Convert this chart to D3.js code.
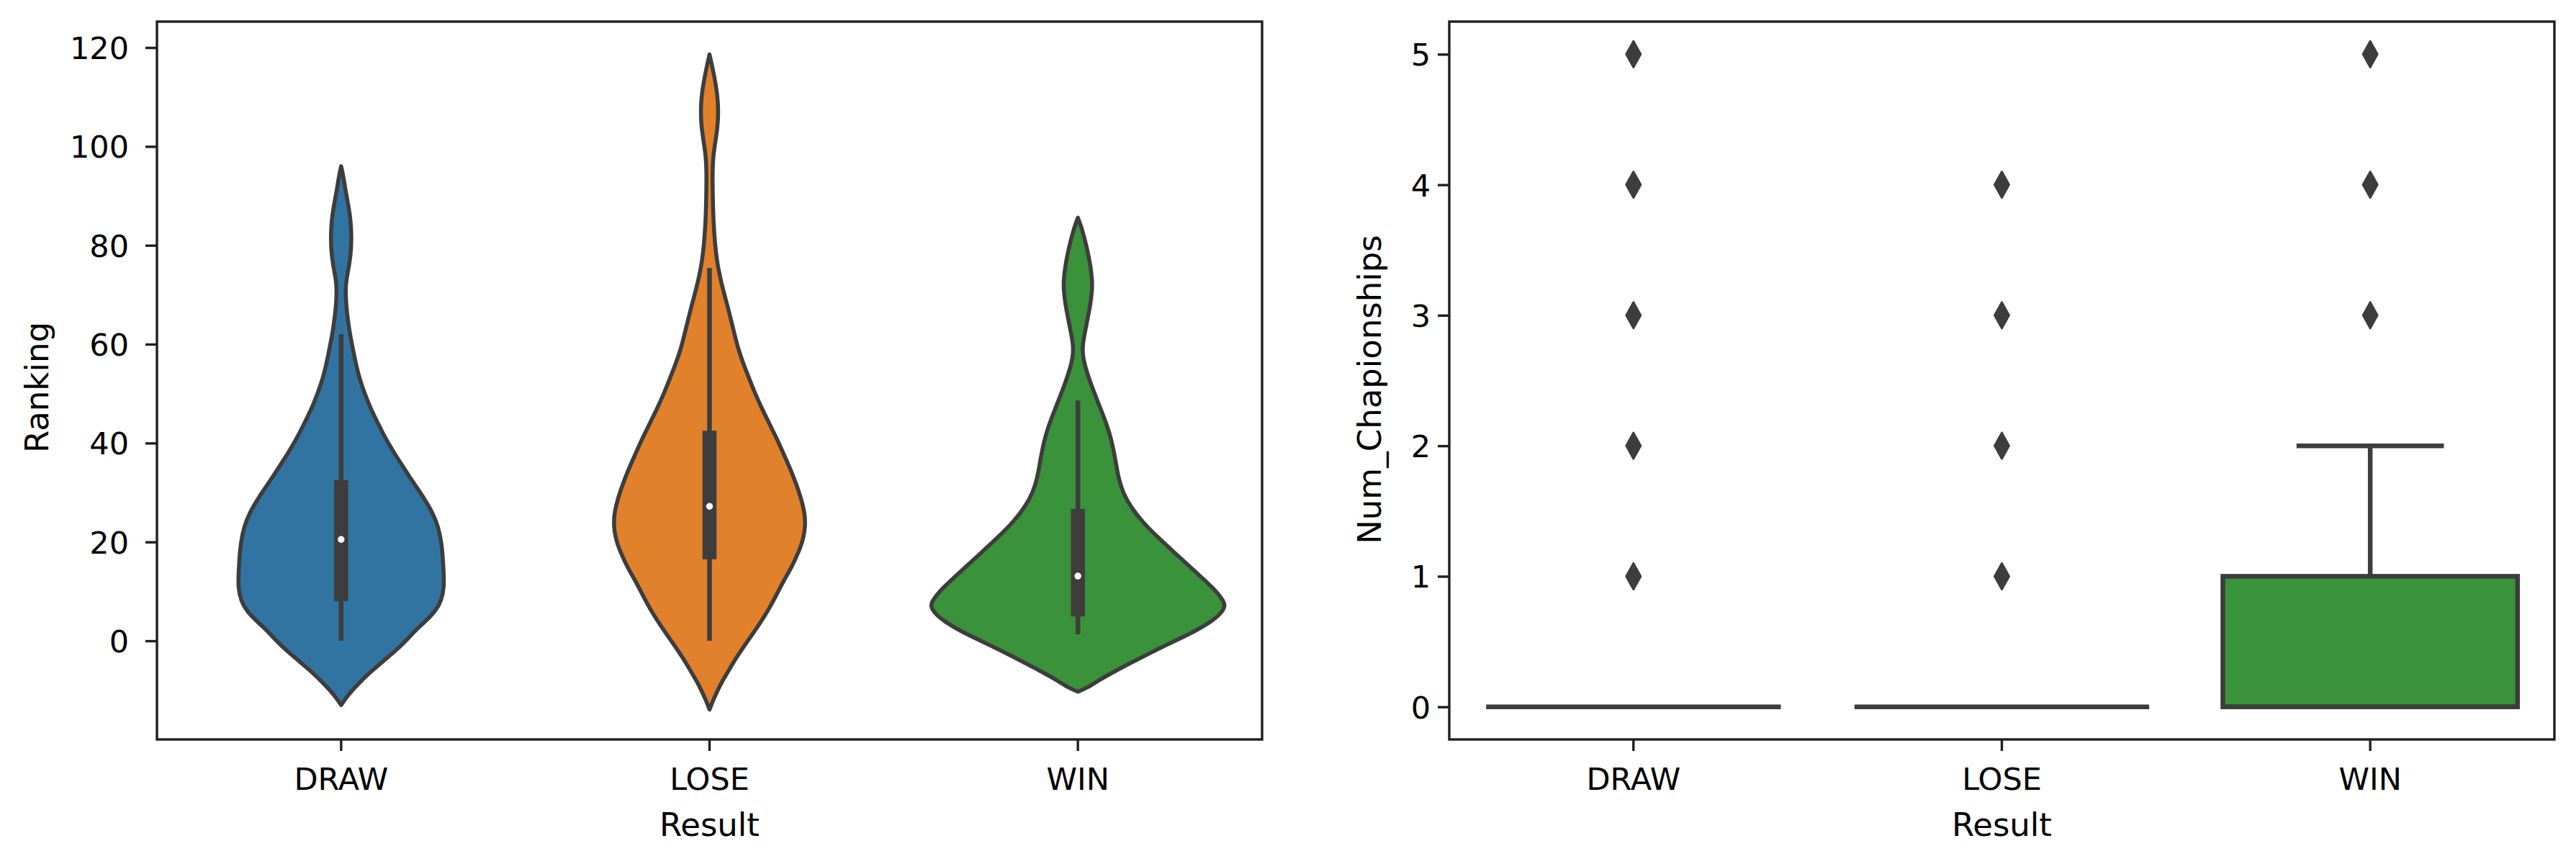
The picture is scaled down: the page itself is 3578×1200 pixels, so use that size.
<!DOCTYPE html>
<html>
<head>
<meta charset="utf-8">
<script src="https://cdn.jsdelivr.net/npm/d3@7"></script>
<style>
  html, body { margin: 0; padding: 0; background: #ffffff; }
  svg { display: block; }
  text { font-family: "DejaVu Sans", sans-serif; fill: #000; }
</style>
</head>
<body>
<svg id="chart" width="3578" height="1200"></svg>
<script>
// ---------------- data ----------------
const categories = ["DRAW", "LOSE", "WIN"];
const colors = ["#3274A1", "#E1812C", "#3A923A"];
const rankingTicks = [0, 20, 40, 60, 80, 100, 120];
const champTicks = [0, 1, 2, 3, 4, 5];

// violin outlines: ranking value -> relative half-width (density, 1 = widest violin)
const drawValues = [96, 94, 91, 88, 85, 82, 79, 76, 73, 71, 68, 65, 62, 59, 56, 53, 50, 47, 44, 41, 38, 35, 32, 29, 26, 23, 20, 17, 14, 11, 8, 6, 4, 2, 0, -2, -4, -6, -8, -10, -11.5, -13];
const drawWidths = [0, 0.015, 0.03, 0.05, 0.065, 0.07, 0.068, 0.055, 0.035, 0.03, 0.034, 0.045, 0.06, 0.08, 0.1, 0.125, 0.16, 0.2, 0.25, 0.3, 0.36, 0.425, 0.49, 0.56, 0.62, 0.66, 0.68, 0.69, 0.695, 0.7, 0.68, 0.64, 0.575, 0.5, 0.44, 0.37, 0.29, 0.21, 0.14, 0.075, 0.035, 0];

const loseValues = [118.6, 116, 113, 110, 107, 104, 101, 98, 95, 90, 85, 80, 77, 74, 71, 68, 65, 62, 59, 56, 53, 50, 47, 44, 41, 38, 35, 32, 29, 26, 24, 22, 20, 18, 15, 12, 9, 6, 3, 0, -3, -6, -8, -10, -12, -13.9];
const loseWidths = [0, 0.02, 0.04, 0.055, 0.06, 0.055, 0.04, 0.025, 0.02, 0.022, 0.026, 0.038, 0.05, 0.068, 0.092, 0.12, 0.145, 0.17, 0.195, 0.23, 0.27, 0.31, 0.355, 0.405, 0.455, 0.5, 0.545, 0.585, 0.62, 0.645, 0.65, 0.645, 0.63, 0.605, 0.56, 0.5, 0.45, 0.395, 0.33, 0.26, 0.19, 0.13, 0.09, 0.055, 0.025, 0];

const winValues = [85.6, 84, 82, 79, 76, 73, 71, 68, 65, 62, 60, 58, 56, 54, 51, 48, 45, 42, 39, 36, 33, 30, 27, 24, 21, 18, 15, 12, 10, 8, 7, 5.5, 4, 2, 0, -2, -4, -6, -8, -9.5, -10.3];
const winWidths = [0, 0.02, 0.04, 0.065, 0.085, 0.097, 0.097, 0.085, 0.065, 0.045, 0.033, 0.032, 0.045, 0.065, 0.1, 0.14, 0.18, 0.215, 0.24, 0.258, 0.275, 0.305, 0.36, 0.44, 0.54, 0.65, 0.76, 0.87, 0.94, 0.99, 1.0, 0.97, 0.91, 0.8, 0.66, 0.52, 0.39, 0.26, 0.14, 0.065, 0];

// inner box of the violins (Ranking)
const rankWhiskerLow  = [0, 0, 1.3];
const rankQ1          = [8.0, 16.5, 4.9];
const rankMedian      = [20.5, 27.2, 13.1];
const rankQ3          = [32.5, 42.5, 26.7];
const rankWhiskerHigh = [62.0, 75.4, 48.6];

// box plot (Num_Chapionships)
const champWhiskerLow  = [0, 0, 0];
const champQ1          = [0, 0, 0];
const champMedian      = [0, 0, 0];
const champQ3          = [0, 0, 1];
const champWhiskerHigh = [0, 0, 2];
const champOutliers    = [[1, 2, 3, 4, 5], [1, 2, 3, 4], [3, 4, 5]];

// ---------------- drawing ----------------
const svg = d3.select("#chart");
const gray = "#3d3d3d";
const spineColor = "#1f1f1f";
const TOP = 30, BOTTOM = 1027;
const tickFont = 43, labelFont = 45;

function frame(x0, x1, yScale, ticks, yLabel, yLabelX, yLabelY, tickAnchorOffset) {
  const x = d3.scaleBand().domain(categories).range([x0, x1]).paddingInner(0).paddingOuter(0);
  const g = svg.append("g");

  const ya = g.append("g").attr("transform", `translate(${x0},0)`)
    .call(d3.axisLeft(yScale).tickValues(ticks).tickSize(16).tickPadding(tickAnchorOffset - 16).tickFormat(d3.format("d")));
  ya.select(".domain").remove();
  ya.selectAll(".tick line").attr("stroke", spineColor).attr("stroke-width", 3.4);
  ya.selectAll(".tick text").attr("font-size", tickFont).attr("dy", "0.36em").attr("fill", "#000")
    .style("font-family", "DejaVu Sans");

  const xa = g.append("g").attr("transform", `translate(0,${BOTTOM})`)
    .call(d3.axisBottom(x).tickSize(16).tickPadding(0));
  xa.select(".domain").remove();
  xa.selectAll(".tick line").attr("stroke", spineColor).attr("stroke-width", 3.4);
  xa.selectAll(".tick text").attr("font-size", tickFont).attr("y", 70).attr("dy", 0).attr("fill", "#000")
    .style("font-family", "DejaVu Sans");

  g.append("text").attr("x", (x0 + x1) / 2).attr("y", 1161).attr("text-anchor", "middle")
    .attr("font-size", labelFont).text("Result");
  g.append("text").attr("transform", `translate(${yLabelX},${yLabelY}) rotate(-90)`)
    .attr("text-anchor", "middle").attr("font-size", labelFont).text(yLabel);
  return { x, g };
}

// ---------- left: violins ----------
const yL = d3.scaleLinear().domain([-19.95, 125.25]).range([BOTTOM, TOP]);
const left = frame(218, 1753, yL, rankingTicks, "Ranking", 67, 538, 39);
const xL = left.x;
const halfMax = xL.bandwidth() * 0.4;
const violinSets = [[drawValues, drawWidths], [loseValues, loseWidths], [winValues, winWidths]];
const plotL = svg.insert("g", ":first-child");

violinSets.forEach(([vals, wids], i) => {
  const cx = xL(categories[i]) + xL.bandwidth() / 2;
  const pts = vals.map((v, k) => ({ v, w: wids[k] }));
  const area = d3.area()
    .y(d => yL(d.v))
    .x0(d => cx - d.w * halfMax)
    .x1(d => cx + d.w * halfMax)
    .curve(d3.curveBasis);
  plotL.append("path").attr("d", area(pts))
    .attr("fill", colors[i]).attr("stroke", gray).attr("stroke-width", 5.5).attr("stroke-linejoin", "round");
  plotL.append("line").attr("x1", cx).attr("x2", cx)
    .attr("y1", yL(rankWhiskerLow[i])).attr("y2", yL(rankWhiskerHigh[i]))
    .attr("stroke", gray).attr("stroke-width", 6.5);
  plotL.append("line").attr("x1", cx).attr("x2", cx)
    .attr("y1", yL(rankQ1[i])).attr("y2", yL(rankQ3[i]))
    .attr("stroke", gray).attr("stroke-width", 19.5);
  plotL.append("circle").attr("cx", cx).attr("cy", yL(rankMedian[i])).attr("r", 6)
    .attr("fill", "#fff").attr("stroke", gray).attr("stroke-width", 2.5);
});

// ---------- right: boxplot ----------
const yR = d3.scaleLinear().domain([-0.25, 5.25]).range([BOTTOM, TOP]);
const right = frame(2013, 3548, yR, champTicks, "Num_Chapionships", 1918, 541, 26);
const xR = right.x;
const plotR = svg.insert("g", ":first-child");
const boxW = xR.bandwidth() * 0.8;

categories.forEach((c, i) => {
  const cx = xR(c) + xR.bandwidth() / 2;
  if (champWhiskerHigh[i] > champQ3[i]) {
    plotR.append("line").attr("x1", cx).attr("x2", cx)
      .attr("y1", yR(champQ3[i])).attr("y2", yR(champWhiskerHigh[i]))
      .attr("stroke", gray).attr("stroke-width", 6.5);
    plotR.append("line").attr("x1", cx - boxW / 4).attr("x2", cx + boxW / 4)
      .attr("y1", yR(champWhiskerHigh[i])).attr("y2", yR(champWhiskerHigh[i]))
      .attr("stroke", gray).attr("stroke-width", 6.5);
  }
  plotR.append("rect").attr("x", cx - boxW / 2).attr("width", boxW)
    .attr("y", yR(champQ3[i])).attr("height", yR(champQ1[i]) - yR(champQ3[i]))
    .attr("fill", colors[i]).attr("stroke", gray).attr("stroke-width", 6.5);
  plotR.append("line").attr("x1", cx - boxW / 2).attr("x2", cx + boxW / 2)
    .attr("y1", yR(champMedian[i])).attr("y2", yR(champMedian[i]))
    .attr("stroke", gray).attr("stroke-width", 6.5);
  champOutliers[i].forEach(v => {
    const cy = yR(v);
    plotR.append("path")
      .attr("d", `M${cx},${cy - 18} L${cx + 10},${cy} L${cx},${cy + 18} L${cx - 10},${cy} Z`)
      .attr("fill", gray).attr("stroke", gray).attr("stroke-width", 3).attr("stroke-linejoin", "round");
  });
});

[[218, 1753], [2013, 3548]].forEach(([x0, x1]) => {
  svg.append("rect").attr("x", x0).attr("y", TOP).attr("width", x1 - x0).attr("height", BOTTOM - TOP)
    .attr("fill", "none").attr("stroke", spineColor).attr("stroke-width", 3.4);
});
</script>
</body>
</html>
